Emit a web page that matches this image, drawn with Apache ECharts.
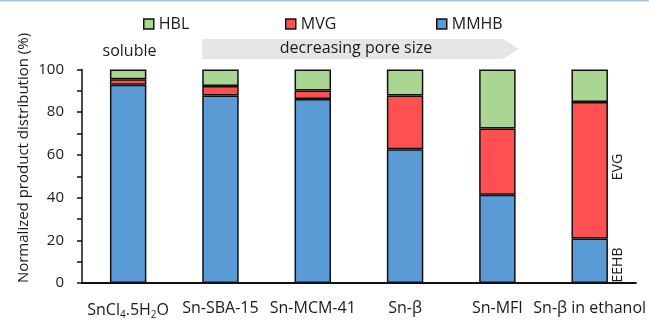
<!DOCTYPE html>
<html>
<head>
<meta charset="utf-8">
<script src="https://cdn.jsdelivr.net/npm/echarts@6/dist/echarts.min.js"></script>
<style>
  html, body { margin: 0; padding: 0; background: #fff; }
  #chart { width: 649px; height: 320px; }
</style>
</head>
<body>
<div id="chart"></div>
<script>
// Catalysts along the x axis (keys into the rich-text label formatter)
const categories = ['SnCl4.5H2O', 'Sn-SBA-15', 'Sn-MCM-41', 'Sn-β', 'Sn-MFI', 'Sn-β in ethanol'];

// Product distribution per catalyst (%), stacked bottom to top
const mmhb = [92.8, 87.8, 86.2, 62.6, 41.3, 20.9];
const mvg  = [2.6, 4.5, 4.0, 25.2, 31.1, 63.9];
const hbl  = [4.6, 7.7, 9.8, 12.2, 27.6, 15.2];

const yTicks = [0, 20, 40, 60, 80, 100];

const FONT = '"Open Sans", "Noto Sans", sans-serif';
const TXT = '#1a1a1a';
const EDGE = '#111';

const chart = echarts.init(document.getElementById('chart'), null, { renderer: 'canvas' });

function barSeries(name, data, color) {
  return {
    name: name,
    type: 'bar',
    stack: 'total',
    data: data,
    barWidth: '39.5%',
    itemStyle: { color: color, borderColor: EDGE, borderWidth: 1.5 },
    emphasis: { disabled: true }
  };
}

function legendAt(name, left) {
  return {
    left: left,
    top: 16,
    padding: 0,
    itemWidth: 10,
    itemHeight: 10,
    itemGap: 0,
    icon: 'rect',
    selectedMode: false,
    textStyle: { fontSize: 16, color: TXT, fontFamily: FONT },
    data: [{ name: name, itemStyle: { borderColor: EDGE, borderWidth: 1.5 } }]
  };
}

chart.setOption({
  animation: false,
  textStyle: { fontFamily: FONT },
  grid: { left: 82, right: 12, top: 69.5, bottom: 35, containLabel: false },
  legend: [legendAt('HBL', 143), legendAt('MVG', 285), legendAt('MMHB', 436)],
  xAxis: {
    type: 'category',
    data: categories,
    axisLine: { lineStyle: { color: EDGE, width: 2 } },
    axisTick: { show: false },
    axisLabel: {
      margin: 17,
      fontSize: 16,
      color: TXT,
      interval: 0,
      formatter: function (v) {
        if (v === 'SnCl4.5H2O') return 'SnCl{sub|4}.5H{sub|2}O';
        return v;
      },
      rich: {
        sub: { fontSize: 10, color: TXT, fontFamily: FONT, padding: [10, 0, 0, 0] }
      }
    }
  },
  yAxis: {
    type: 'value',
    min: 0,
    max: 100,
    interval: 10,
    axisLine: { show: true, lineStyle: { color: EDGE, width: 1.5 } },
    axisTick: { show: true, length: 5, lineStyle: { color: EDGE, width: 1.5 } },
    splitLine: { show: false },
    axisLabel: {
      fontSize: 15,
      color: TXT,
      margin: 18,
      formatter: function (v) { return yTicks.indexOf(v) >= 0 ? String(v) : ''; }
    }
  },
  series: [
    barSeries('MMHB', mmhb, '#5b9bd5'),
    barSeries('MVG', mvg, '#fe5050'),
    barSeries('HBL', hbl, '#a9d692')
  ],
  graphic: [
    // thin rule across the top
    { type: 'rect', shape: { x: 0, y: 0, width: 649, height: 1.5 }, style: { fill: '#a9c4ea' }, silent: true },
    // y axis title
    {
      type: 'text', x: 24, y: 158, rotation: Math.PI / 2,
      style: { text: 'Normalized product distribution (%)', fontSize: 15, fill: TXT, fontFamily: FONT, align: 'center', verticalAlign: 'middle' },
      silent: true
    },
    // grey arrow spanning the porous catalysts
    {
      type: 'polygon',
      shape: { points: [[202, 39], [503, 39], [519, 49], [503, 59], [202, 59]] },
      style: { fill: '#e6e6e6' },
      silent: true
    },
    {
      type: 'text', x: 356, y: 48.5,
      style: { text: 'decreasing pore size', fontSize: 16, fill: TXT, fontFamily: FONT, align: 'center', verticalAlign: 'middle' },
      silent: true
    },
    {
      type: 'text', x: 129.5, y: 51.5,
      style: { text: 'soluble', fontSize: 16, fill: TXT, fontFamily: FONT, align: 'center', verticalAlign: 'middle' },
      silent: true
    },
    {
      type: 'text', x: 618, y: 167, rotation: Math.PI / 2,
      style: { text: 'EVG', fontSize: 14, fill: TXT, fontFamily: FONT, align: 'center', verticalAlign: 'middle' },
      silent: true
    },
    {
      type: 'text', x: 618, y: 265, rotation: Math.PI / 2,
      style: { text: 'EEHB', fontSize: 14, fill: TXT, fontFamily: FONT, align: 'center', verticalAlign: 'middle' },
      silent: true
    }
  ]
});
</script>
</body>
</html>
